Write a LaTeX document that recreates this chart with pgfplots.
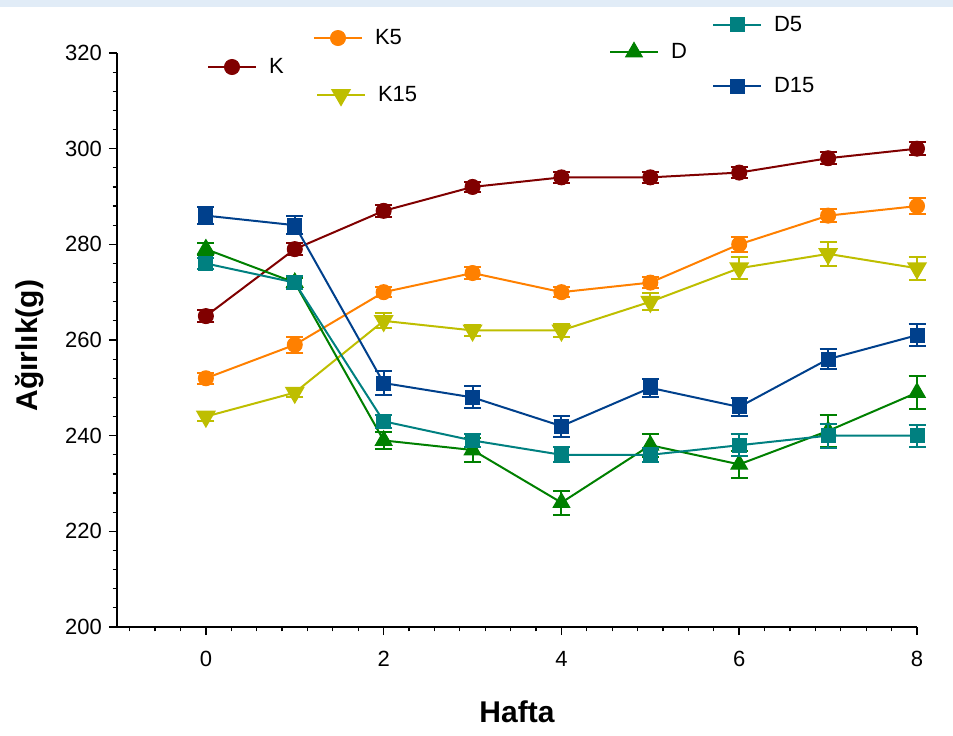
\documentclass[border=0pt]{standalone}
\usepackage{pgfplots}
\pgfplotsset{compat=1.18}
\usepackage{fontspec}
\setmainfont{Liberation Sans}
\definecolor{cK}{RGB}{128,0,0}
\definecolor{cKv}{RGB}{255,128,0}
\definecolor{cKxv}{RGB}{190,190,0}
\definecolor{cD}{RGB}{0,128,0}
\definecolor{cDv}{RGB}{0,128,128}
\definecolor{cDxv}{RGB}{0,64,140}
\definecolor{band}{RGB}{225,236,247}
\pgfplotsset{
  base/.style={
    scale only axis, width=400pt, height=287pt,
    xmin=-1, xmax=8, ymin=200, ymax=320,
    clip=false,
    legend image code/.code={\draw[mark repeat=2,mark phase=2] plot coordinates {(0pt,0pt) (12pt,0pt) (24pt,0pt)};},
    legend style={draw=none, fill=none, inner sep=0pt, outer sep=0pt, anchor=west,
      font=\fontsize{11}{13}\selectfont, legend cell align=left,
      /tikz/every odd column/.append style={column sep=4pt}},
  },
  hidden/.style={base, hide axis},
  ser/.style={line width=1pt, color=#1, mark options={solid, fill=#1, draw=#1, line width=0.5pt},
    error bars/y dir=both, error bars/y explicit,
    error bars/error bar style={line width=1pt, color=#1},
    error bars/error mark options={rotate=90, mark size=4.25pt, line width=1pt, color=#1}},
}
\begin{document}
\begin{tikzpicture}
\path[use as bounding box] (-58.5pt,-54pt) rectangle (418pt,313.5pt);
\fill[band] (-58.5pt,310pt) rectangle (418pt,313.5pt);
\begin{axis}[base,
  axis x line*=bottom, axis y line*=left,
  axis line style={line width=0.9pt},
  tick align=outside,
  major tick length=4pt, minor tick length=2.2pt,
  major tick style={line width=0.8pt, black},
  minor tick style={line width=0.6pt, black},
  xtick={0,2,4,6,8},
  minor xtick={-0.857142,-0.571428,...,8},
  ytick={200,220,...,320},
  minor y tick num=4,
  /pgf/number format/assume math mode=true,
  ticklabel style={font=\fontsize{11}{13}\selectfont},
  xticklabel style={yshift=-4.5pt},
  xlabel={Hafta}, ylabel={Ağırlık(g)},
  label style={font=\bfseries\fontsize{15}{17}\selectfont},
  xlabel style={at={(axis description cs:0.5,0)}, anchor=center, yshift=-42.5pt},
  ylabel style={at={(axis description cs:-0.10875,0.49)}, anchor=center},
  legend style={at={(0.1125,0.9756)}},
]
\addplot+[ser=cK, mark=*, mark size=3.75pt] table[x=x,y=y,y error=e] {
x y e
0 265 1.2
1 279 1.2
2 287 1.2
3 292 1.0
4 294 1.2
5 294 1.2
6 295 1.2
7 298 1.2
8 300 1.3
};
\addlegendentry{K}
\end{axis}
\begin{axis}[hidden, legend style={at={(0.245,1.0261)}}]
\addplot+[ser=cKv, mark=*, mark size=3.75pt] table[x=x,y=y,y error=e] {
x y e
0 252 1.2
1 259 1.7
2 270 1.0
3 274 1.2
4 270 1.0
5 272 1.2
6 280 1.5
7 286 1.4
8 288 1.65
};
\addlegendentry{K5}
\end{axis}
\begin{axis}[hidden, legend style={at={(0.24875,0.9268)}}]
\addplot+[ser=cKxv, mark=triangle*, mark size=4.8pt, mark options={rotate=180}] table[x=x,y=y,y error=e] {
x y e
0 244 1.0
1 249 1.0
2 264 1.55
3 262 1.2
4 262 1.3
5 268 1.75
6 275 2.3
7 278 2.55
8 275 2.45
};
\addlegendentry{K15}
\end{axis}
\begin{axis}[hidden, legend style={at={(0.615,1.0017)}}]
\addplot+[ser=cD, mark=triangle*, mark size=4.8pt] table[x=x,y=y,y error=e] {
x y e
0 279 1.2
1 272 1.0
2 239 1.8
3 237 2.5
4 226 2.5
5 238 2.4
6 234 2.8
7 241 3.4
8 249 3.5
};
\addlegendentry{D}
\end{axis}
\begin{axis}[hidden, legend style={at={(0.74375,1.0488)}}]
\addplot+[ser=cDv, mark=square*, mark size=3.5pt] table[x=x,y=y,y error=e] {
x y e
0 276 1.2
1 272 1.3
2 243 1.4
3 239 1.4
4 236 1.6
5 236 1.5
6 238 2.25
7 240 2.5
8 240 2.3
};
\addlegendentry{D5}
\end{axis}
\begin{axis}[hidden, legend style={at={(0.74375,0.9425)}}]
\addplot+[ser=cDxv, mark=square*, mark size=3.5pt] table[x=x,y=y,y error=e] {
x y e
0 286 1.75
1 284 1.85
2 251 2.5
3 248 2.3
4 242 2.2
5 250 1.85
6 246 1.95
7 256 2.15
8 261 2.35
};
\addlegendentry{D15}
\end{axis}
\end{tikzpicture}
\end{document}
